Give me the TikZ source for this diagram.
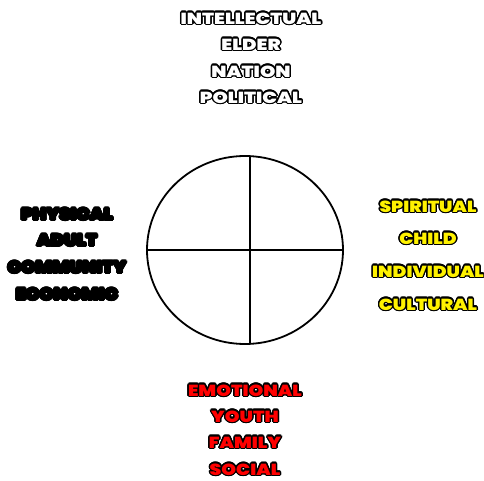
\documentclass[tikz,border=0pt]{standalone}
\usepackage{fontspec}
\setmainfont{Liberation Sans}
\IfFontExistsTF{Poppins Black}{\newfontfamily\heavy{Poppins Black}}{%
  \IfFontExistsTF{Lato Black}{\newfontfamily\heavy{Lato Black}}{%
    \newfontfamily\heavy{Liberation Sans}[UprightFont=* Bold]}}
\usepackage{contour}
\contournumber{16}
\contourlength{1.2pt}
\usetikzlibrary{shapes.geometric}
\tikzset{
  lbl/.style={font=\heavy\fontsize{16}{16}\selectfont, inner sep=0pt, anchor=center, xscale=1.22},
  lbll/.style={lbl, xscale=0.92},
  lblr/.style={lbl, xscale=0.955},
  lblb/.style={lbl, xscale=0.96},
  ring/.style={draw=black, line width=1.8pt},
  cross/.style={draw=black, line width=1.6pt}
}
\newcommand{\wlab}[2]{\contour{black}{\textcolor{#1}{#2}}}
\begin{document}
\begin{tikzpicture}[x=1pt,y=-1pt]
\useasboundingbox (0,0) rectangle (484,481);
\fill[white] (0,0) rectangle (484,481);
% circle
\node[ring, ellipse, minimum width=196pt, minimum height=188pt, inner sep=0pt] (c) at (245,250) {};
\coordinate (vt) at (250,156);
\coordinate (vb) at (250,344);
\draw[cross] (vt) -- (vb);
\draw[cross] (c.west) -- (c.east);
% top
\node[lbl] (t1) at (251,19) {\wlab{white}{INTELLECTUAL}};
\node[lbl] (t2) at (251,45) {\wlab{white}{ELDER}};
\node[lbl] (t3) at (251,72) {\wlab{white}{NATION}};
\node[lbl] (t4) at (251,98) {\wlab{white}{POLITICAL}};
% left
\node[lbll] (l1) at (67,215) {\wlab{black}{PHYSICAL}};
\node[lbll] (l2) at (67,241) {\wlab{black}{ADULT}};
\node[lbll] (l3) at (67,268) {\wlab{black}{COMMUNITY}};
\node[lbll] (l4) at (67,295) {\wlab{black}{ECONOMIC}};
% right
\node[lblr] (r1) at (428,207) {\wlab{yellow}{SPIRITUAL}};
\node[lblr] (r2) at (428,239) {\wlab{yellow}{CHILD}};
\node[lblr] (r3) at (428,272) {\wlab{yellow}{INDIVIDUAL}};
\node[lblr] (r4) at (428,305) {\wlab{yellow}{CULTURAL}};
% bottom
\node[lblb] (b1) at (245,391) {\wlab{red}{EMOTIONAL}};
\node[lblb] (b2) at (245,417) {\wlab{red}{YOUTH}};
\node[lblb] (b3) at (245,443) {\wlab{red}{FAMILY}};
\node[lblb] (b4) at (245,470) {\wlab{red}{SOCIAL}};
\end{tikzpicture}
\end{document}
